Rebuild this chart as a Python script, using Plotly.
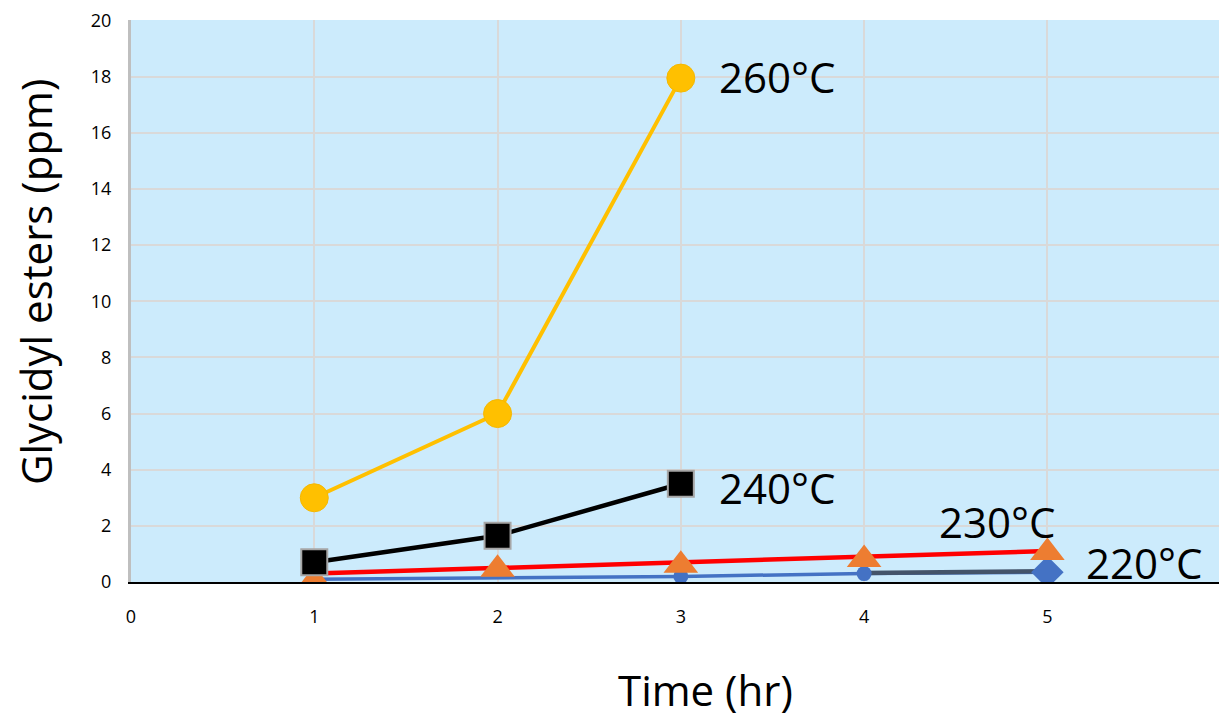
import plotly.graph_objects as go

# Data
t260 = [1, 2, 3]
y260 = [3.0, 6.0, 17.95]
t240 = [1, 2, 3]
y240 = [0.7, 1.65, 3.5]
t230 = [1, 2, 3, 4, 5]
y230 = [0.05, 0.45, 0.6, 0.8, 1.05]
y230_trend = [0.3, 0.5, 0.7, 0.9, 1.1]
t220 = [1, 2, 3, 4, 5]
y220 = [0.1, 0.15, 0.2, 0.3, 0.35]
t220_tail = [4, 5]
y220_tail = [0.32, 0.38]
labels = ["260°C", "240°C", "230°C", "220°C"]
label_x = [3.2, 3.2, 4.4, 5.2]
label_y = [18.0, 3.35, 2.15, 0.68]
x_ticks = [0, 1, 2, 3, 4, 5, 6]
y_ticks = [0, 2, 4, 6, 8, 10, 12, 14, 16, 18, 20]
x_title = "Time (hr)"
y_title = "Glycidyl esters (ppm)"

FONT = "Open Sans"

fig = go.Figure()

# 220 °C
fig.add_trace(go.Scatter(x=t220, y=y220, mode="lines", line=dict(color="#4472C4", width=3.5),
                         showlegend=False, hoverinfo="skip"))
fig.add_trace(go.Scatter(x=t220_tail, y=y220_tail, mode="lines", line=dict(color="#44546A", width=4.5),
                         showlegend=False, hoverinfo="skip"))
fig.add_trace(go.Scatter(x=t220[2:4], y=y220[2:4], mode="markers",
                         marker=dict(symbol="circle", size=15, color="#4472C4"), showlegend=False))
fig.add_trace(go.Scatter(x=t220[4:], y=y220[4:], mode="markers",
                         marker=dict(symbol="diamond", size=25, color="#4472C4"), showlegend=False))

# 230 °C
fig.add_trace(go.Scatter(x=t230, y=y230_trend, mode="lines", line=dict(color="#FF0000", width=4.5),
                         showlegend=False, hoverinfo="skip"))
fig.add_trace(go.Scatter(x=t230, y=y230, mode="markers",
                         marker=dict(symbol="triangle-up", size=30, color="#ED7D31"), showlegend=False))

# 240 °C
fig.add_trace(go.Scatter(x=t240, y=y240, mode="lines+markers", line=dict(color="#000000", width=4.5),
                         marker=dict(symbol="square", size=26, color="#000000",
                                     line=dict(color="#A6A6A6", width=2)), showlegend=False))

# 260 °C
fig.add_trace(go.Scatter(x=t260, y=y260, mode="lines+markers", line=dict(color="#FFC000", width=4),
                         marker=dict(symbol="circle", size=28, color="#FFC000",
                                     line=dict(color="#F5B800", width=1)), showlegend=False))

for txt, lx, ly in zip(labels, label_x, label_y):
    fig.add_annotation(x=lx, y=ly, text=txt, showarrow=False, xanchor="left", yanchor="middle",
                       font=dict(family=FONT, size=42, color="#000000"))

# axis titles as annotations (positioned as in the reference)
fig.add_annotation(xref="paper", yref="paper", x=0.524, y=-0.191, text=x_title, showarrow=False,
                   xanchor="center", yanchor="middle", font=dict(family=FONT, size=42, color="#000000"))
fig.add_annotation(xref="paper", yref="paper", x=-0.087, y=0.533, text=y_title, showarrow=False,
                   textangle=-90, xanchor="center", yanchor="middle",
                   font=dict(family=FONT, size=42, color="#000000"))

fig.update_layout(
    width=1219, height=710,
    margin=dict(l=123, r=0, t=9, b=136),
    paper_bgcolor="white",
    plot_bgcolor="#CCEBFC",
    font=dict(family=FONT, color="#000000"),
    showlegend=False,
)
fig.update_xaxes(
    range=[0, 5.98], tickvals=x_ticks, ticktext=[str(v) for v in x_ticks],
    showgrid=True, gridcolor="#D9D9D9", gridwidth=2,
    zeroline=False, showline=True, linecolor="#000000", linewidth=2,
    ticks="outside", ticklen=17, tickcolor="rgba(0,0,0,0)",
    tickfont=dict(family=FONT, size=18), ticklabeloverflow="allow",
)
fig.update_yaxes(
    range=[0, 20.02], tickvals=y_ticks,
    showgrid=True, gridcolor="#D9D9D9", gridwidth=2,
    zeroline=False, showline=True, linecolor="#BFBFBF", linewidth=3,
    ticks="outside", ticklen=13, tickcolor="rgba(0,0,0,0)",
    tickfont=dict(family=FONT, size=18), ticklabeloverflow="allow",
)

fig.write_html("out.html")
